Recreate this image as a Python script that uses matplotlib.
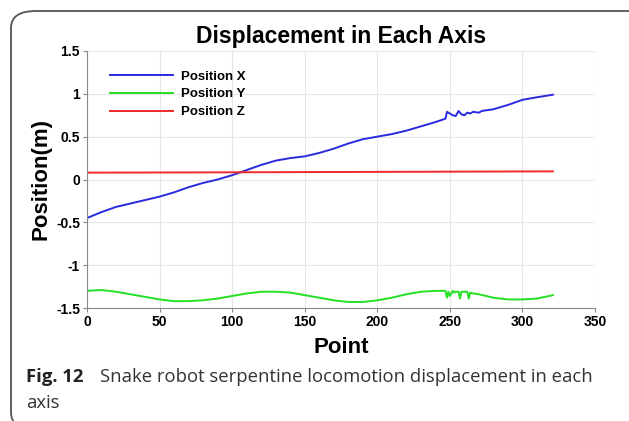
import matplotlib.pyplot as plt
from matplotlib.patches import FancyBboxPatch

# position X (blue)
x_pts = [0, 10, 20, 30, 40, 50, 60, 70, 80, 90, 100, 110, 120, 130, 140, 150,
         160, 170, 180, 190, 200, 210, 220, 230, 240, 247, 248, 250, 252, 254,
         256, 258, 260, 262, 264, 266, 270, 272, 280, 290, 300, 310, 321]
pos_x = [-0.45, -0.38, -0.32, -0.28, -0.24, -0.20, -0.15, -0.09, -0.04, 0.00,
         0.05, 0.11, 0.17, 0.22, 0.25, 0.27, 0.31, 0.36, 0.42, 0.47, 0.50,
         0.53, 0.57, 0.62, 0.67, 0.71, 0.79, 0.77, 0.75, 0.74, 0.80, 0.76,
         0.75, 0.78, 0.77, 0.79, 0.78, 0.80, 0.82, 0.87, 0.93, 0.96, 0.99]

# position Y (green)
y_pts = [0, 10, 20, 30, 40, 50, 60, 70, 80, 90, 100, 110, 120, 130, 140, 150,
         160, 170, 180, 190, 200, 210, 220, 230, 240, 247, 248, 249, 250, 252,
         253, 254, 256, 257, 258, 262, 263, 264, 266, 270, 280, 290, 300, 310, 321]
pos_y = [-1.30, -1.29, -1.31, -1.34, -1.37, -1.40, -1.42, -1.42, -1.41, -1.39,
         -1.36, -1.33, -1.31, -1.31, -1.32, -1.35, -1.38, -1.41, -1.43, -1.43,
         -1.41, -1.38, -1.34, -1.31, -1.30, -1.30, -1.38, -1.31, -1.36, -1.30,
         -1.32, -1.31, -1.31, -1.39, -1.31, -1.31, -1.39, -1.32, -1.33, -1.34,
         -1.38, -1.40, -1.40, -1.39, -1.35]

# position Z (red)
z_pts = [0, 80, 160, 240, 321]
pos_z = [0.080, 0.083, 0.087, 0.091, 0.095]

fig = plt.figure(figsize=(6.29, 4.21), dpi=100)
plt.rcParams['font.family'] = ['Liberation Sans', 'DejaVu Sans']

# rounded frame around figure + caption
frame = FancyBboxPatch((11 / 629, -0.02), 1.1, 1.02 - 11 / 421,
                       boxstyle='round,pad=0,rounding_size=0.04',
                       transform=fig.transFigure, fill=False,
                       edgecolor='#555555', linewidth=1.3)
fig.patches.append(frame)

ax = fig.add_axes([87 / 629, 1 - 308 / 421, 508 / 629, 257 / 421])
ax.plot(x_pts, pos_x, color='#2a2ae0', lw=1.4, label='Position X')
ax.plot(y_pts, pos_y, color='#22e022', lw=1.4, label='Position Y')
ax.plot(z_pts, pos_z, color='#f02828', lw=1.4, label='Position Z')

ax.set_xlim(0, 350)
ax.set_ylim(-1.5, 1.5)
ax.set_xticks(range(0, 351, 50))
ax.set_yticks([-1.5, -1, -0.5, 0, 0.5, 1, 1.5])
ax.set_yticklabels(['-1.5', '-1', '-0.5', '0', '0.5', '1', '1.5'])
ax.grid(True, color='#e6e6e6', lw=0.8)
ax.set_axisbelow(True)
for s in ['top', 'right']:
    ax.spines[s].set_visible(False)
for s in ['left', 'bottom']:
    ax.spines[s].set_color('#888888')
ax.tick_params(labelsize=10, length=3, color='#888888', pad=2)
for lbl in ax.get_xticklabels() + ax.get_yticklabels():
    lbl.set_fontweight('bold')

ax.set_title('Displacement in Each Axis', fontsize=16.5, fontweight='bold', pad=6)
ax.set_xlabel('Point', fontsize=16, fontweight='bold', labelpad=6)
ax.set_ylabel('Position(m)', fontsize=16, fontweight='bold', labelpad=3)

leg = ax.legend(loc='upper left', frameon=False, prop={'weight': 'bold', 'size': 9.5},
                handlelength=4.8, handletextpad=0.6, borderaxespad=0.0,
                labelspacing=0.42, bbox_to_anchor=(0.035, 0.945))

# caption
cap_font = 'Open Sans'
fig.text(26 / 629, 1 - 382 / 421, 'Fig. 12', fontsize=13.3, fontweight='bold',
         family=cap_font, color='#222222', va='baseline')
fig.text(100 / 629, 1 - 382 / 421,
         'Snake robot serpentine locomotion displacement in each',
         fontsize=13.3, family=cap_font, color='#333333', va='baseline')
fig.text(26 / 629, 1 - 408 / 421, 'axis', fontsize=13.3, family=cap_font,
         color='#333333', va='baseline')

fig.savefig('out.png', dpi=100)
